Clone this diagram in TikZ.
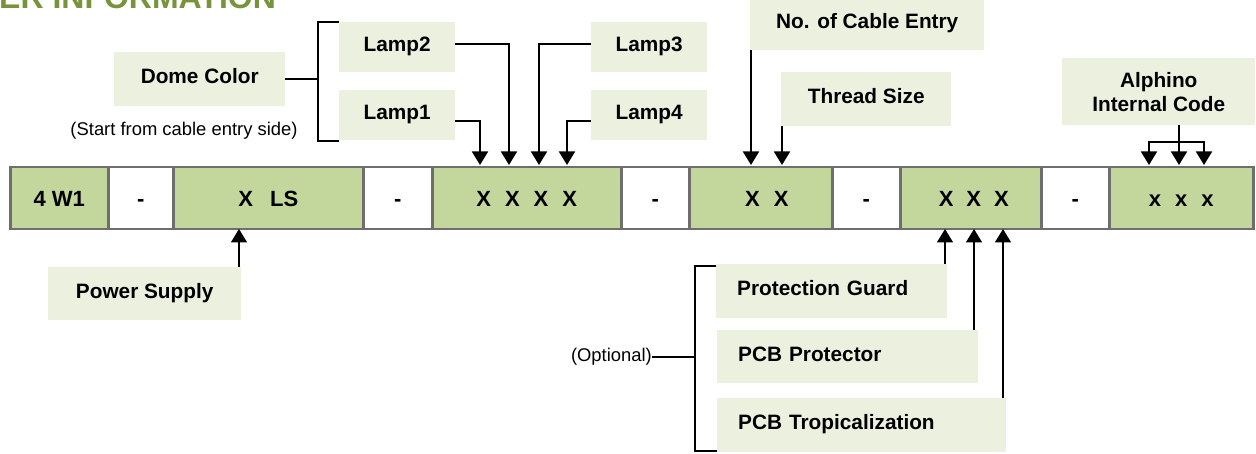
\documentclass[tikz,border=0pt]{standalone}
\usepackage{fontspec}
\setmainfont{Liberation Sans}
\usetikzlibrary{arrows.meta}
\definecolor{cellgreen}{HTML}{C3D69B}
\definecolor{lblgreen}{HTML}{EBF1DE}
\definecolor{bordergray}{HTML}{6E6E6E}
\definecolor{titlegreen}{HTML}{77933C}
\begin{document}
\begin{tikzpicture}[x=1pt,y=-1pt,
  cell/.style={draw=bordergray,line width=2.5pt,anchor=north west,minimum height=62pt,inner sep=0pt,text height=16pt,text depth=0pt,font=\fontsize{22}{26}\selectfont\bfseries},
  gcell/.style={cell,fill=cellgreen},
  wcell/.style={cell,fill=white},
  lbl/.style={fill=lblgreen,anchor=north west,inner sep=0pt,font=\fontsize{20.8}{25}\selectfont\bfseries,text height=15pt,text depth=6pt},
  lblleft/.style={lbl,align=left,inner xsep=21pt},
  lbltwo/.style={fill=lblgreen,anchor=north west,inner sep=0pt,align=center,font=\fontsize{20.8}{24}\selectfont\bfseries},
  conn/.style={line width=1.8pt},
  arr/.style={conn,-{Triangle[width=16pt,length=13.5pt]}},
  note/.style={font=\fontsize{18.4}{22}\selectfont,inner sep=0pt},
]
\useasboundingbox (0,0) rectangle (1256,454);

% title (cropped at top)
\node[anchor=base west,inner sep=0pt,text=titlegreen,font=\fontsize{32}{36}\selectfont\bfseries] (title) at (-1,8.5) {ER INFORMATION};

% code row
\node[gcell,minimum width=98pt]  (c1) at (9,166)   {4 W1};
\node[wcell,minimum width=65pt]  (d1) at (107,166) {-};
\node[gcell,minimum width=190pt] (c2) at (172,166) {X\hspace{11pt} LS};
\node[wcell,minimum width=69pt]  (d2) at (362,166) {-};
\node[gcell,minimum width=189pt] (c3) at (431,166) {X\hspace{14pt}X\hspace{14pt}X\hspace{14pt}X};
\node[wcell,minimum width=68pt]  (d3) at (620,166) {-};
\node[gcell,minimum width=143pt] (c4) at (688,166) {\hspace{12pt}X\hspace{14pt}X};
\node[wcell,minimum width=68pt]  (d4) at (831,166) {-};
\node[gcell,minimum width=141pt] (c5) at (899,166) {\hspace{6pt}X\hspace{13pt}X\hspace{13pt}X};
\node[wcell,minimum width=68pt]  (d5) at (1040,166) {-};
\node[gcell,minimum width=144pt] (c6) at (1108,166) {x\hspace{14pt}x\hspace{14pt}x};

% labels
\node[lbl,minimum width=171pt,minimum height=54pt] (dome) at (114,52) {Dome Color};
\node[lbl,minimum width=116pt,minimum height=50pt] (lamp2) at (339,22) {Lamp2};
\node[lbl,minimum width=116pt,minimum height=50pt] (lamp1) at (339,90) {Lamp1};
\node[lbl,minimum width=116pt,minimum height=50pt] (lamp3) at (591,22) {Lamp3};
\node[lbl,minimum width=116pt,minimum height=50pt] (lamp4) at (591,90) {Lamp4};
\node[lbl,minimum width=234pt,minimum height=53pt] (nce) at (750,-3) {No. of Cable Entry};
\node[lbl,minimum width=170pt,minimum height=54pt] (thr) at (781,72) {Thread Size};
\node[lbltwo,minimum width=193pt,minimum height=67pt] (aic) at (1062,58) {Alphino\\Internal Code};
\node[lbl,minimum width=193pt,minimum height=53pt] (ps) at (48,267) {Power Supply};
\node[lblleft,text width=189pt,minimum height=54pt] (pg) at (716,264) {Protection Guard};
\node[lblleft,text width=219pt,minimum height=53pt] (pp) at (717,330) {PCB Protector};
\node[lblleft,text width=247pt,minimum height=54pt] (pt) at (717,398) {PCB Tropicalization};

\node[note] (start) at (184,131) {(Start from cable entry side)};
\node[note,anchor=east] (opt) at (652,357) {(Optional)};

% arrow targets
\coordinate (l1) at (480,165);
\coordinate (l2) at (509,165);
\coordinate (l3) at (539,165);
\coordinate (l4) at (567,165);
\coordinate (n1) at (751,165);
\coordinate (n2) at (782,165);
\coordinate (a1) at (1149,165);
\coordinate (a2) at (1179,165);
\coordinate (a3) at (1204,165);
\coordinate (aj) at (1179,142);
\coordinate (psx) at (239,229);
\coordinate (b1) at (945,229);
\coordinate (b2) at (974,229);
\coordinate (b3) at (1003,229);

% dome color bracket
\coordinate (dbt) at (318,22);
\coordinate (dbb) at (318,141);
\draw[conn] (dome.east) -- (dome.east -| dbt);
\draw[conn] (lamp2.north west) -- (dbt) -- (dbb) -- (lamp1.south west |- dbb);

% lamps
\draw[arr] ([yshift=-6pt]lamp1.east) -| (l1);
\draw[arr] ([yshift=3pt]lamp2.east) -| (l2);
\draw[arr] ([yshift=3pt]lamp3.west) -| (l3);
\draw[arr] ([yshift=-6pt]lamp4.west) -| (l4);

% cable entry / thread
\draw[arr] (n1 |- nce.south) -- (n1);
\draw[arr] (n2 |- thr.south) -- (n2);

% alphino
\draw[conn] (aj |- aic.south) -- (aj);
\draw[arr] (aj) -| (a1);
\draw[arr] (aj) -| (a3);
\draw[arr] (aj) -- (a2);

% power supply
\draw[arr] (psx |- ps.north) -- (psx);

% optional bracket
\coordinate (obt) at (695,266);
\coordinate (obb) at (695,451);
\draw[conn] (pg.north west |- obt) -- (obt) -- (obb) -- (pt.south west |- obb);
\draw[conn] (opt.east) -- (opt.east -| obt);

% protection arrows
\draw[arr] (b1 |- pg.north) -- (b1);
\draw[arr] (b2 |- pp.north) -- (b2);
\draw[arr] (b3 |- pt.north) -- (b3);
\end{tikzpicture}
\end{document}
